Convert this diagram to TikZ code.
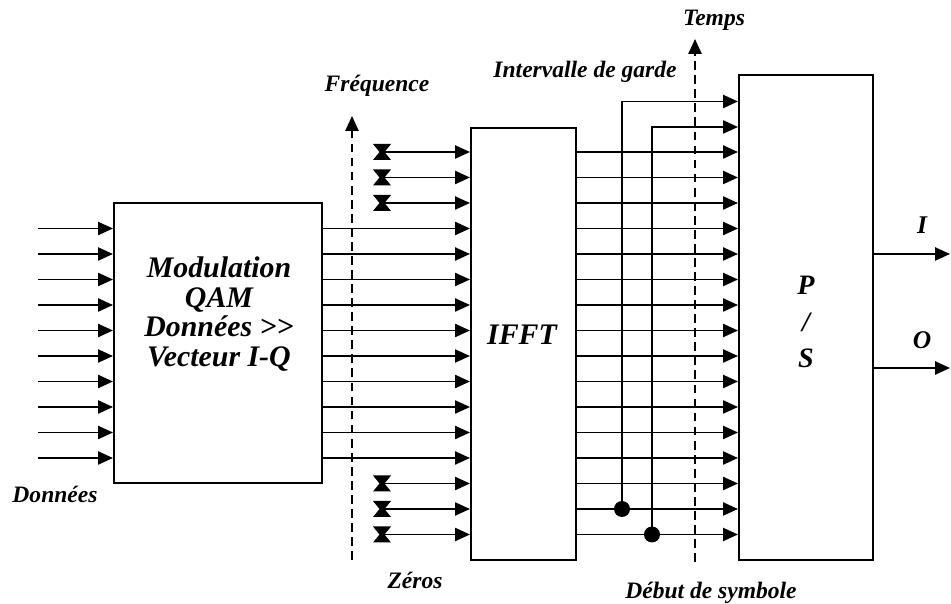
\documentclass[tikz,border=0pt]{standalone}
\usepackage{fontspec}
\setmainfont{Liberation Serif}
\usetikzlibrary{arrows.meta}
\begin{document}
\begin{tikzpicture}[x=0.02cm,y=-0.02cm,
  line width=1pt,
  box/.style={draw,line width=1.2pt,inner sep=0pt},
  arr/.style={-{Triangle[length=8.5pt,width=7.5pt]}},
  axis/.style={line width=1.1pt,dash pattern=on 5pt off 3pt,-{Triangle[length=8.5pt,width=7.5pt]}},
  lbl/.style={font=\fontsize{13.4}{15}\selectfont\bfseries\itshape,inner sep=0pt},
  big/.style={font=\fontsize{17}{17}\selectfont\bfseries\itshape,inner sep=0pt,align=center},
  dot/.style={circle,fill,inner sep=0pt,minimum size=0.32cm},
  hourglass/.pic={\fill (-9,-8)--(9,-8)--(2.5,0)--(9,8)--(-9,8)--(-2.5,0)--cycle;}]
\useasboundingbox (0,0) rectangle (951,604);

% blocks
\node[box,minimum width=4.16cm,minimum height=5.6cm] (mod) at (218,343) {};
\node[box,minimum width=2.1cm,minimum height=8.64cm] (ifft) at (523.5,344) {};
\node[box,minimum width=2.68cm,minimum height=9.7cm] (ps) at (806,317.5) {};

\node[big] (modtxt) at (219,314) {Modulation\\QAM\\Données >{}>\\Vecteur I-Q};
\node[big] (iffttxt) at (522,335) {IFFT};
\node[big,font=\fontsize{16}{21}\selectfont\bfseries\itshape] (pstxt) at (806,322) {P\\/\\S};

% rows
\foreach \k in {1,...,16}{
  \coordinate (r\k) at (0,{152+25.5*(\k-1)});
}
% data inputs and modulation outputs
\foreach \k in {4,...,13}{
  \coordinate (in\k) at (38,{152+25.5*(\k-1)});
  \draw[arr] (in\k) -- (in\k -| mod.west);
  \draw[arr] (in\k -| mod.east) -- (in\k -| ifft.west);
}
% zeros
\foreach \k in {1,2,3,14,15,16}{
  \coordinate (z\k) at (382,{152+25.5*(\k-1)});
  \pic at (z\k) {hourglass};
  \draw[arr] (z\k) -- (z\k -| ifft.west);
}
% IFFT outputs
\foreach \k in {1,...,16}{
  \draw[arr] (r\k -| ifft.east) -- (r\k -| ps.west);
}
% guard interval
\node[dot] (d1) at (622,509) {};
\node[dot] (d2) at (652,534.5) {};
\coordinate (g1) at (622,101.5);
\coordinate (g2) at (652,127);
\draw[arr] (d1.center) -- (g1) -- (g1 -| ps.west);
\draw[arr] (d2.center) -- (g2) -- (g2 -| ps.west);

% axes
\coordinate (fbot) at (352,560);
\coordinate (ftop) at (352,116);
\draw[axis] (fbot) -- (ftop);
\coordinate (tbot) at (695,562);
\coordinate (ttop) at (695,39);
\draw[axis] (tbot) -- (ttop);

% outputs
\coordinate (oi) at (950,254);
\coordinate (oo) at (950,368);
\draw[arr] (oi -| ps.east) -- (oi);
\draw[arr] (oo -| ps.east) -- (oo);

% labels
\node[lbl] (ldon) at (55,494) {Données};
\node[lbl] (lfreq) at (377,86) {Fréquence};
\node[lbl] (lint) at (585,72) {Intervalle de garde};
\node[lbl] (ltemps) at (714,20) {Temps};
\node[lbl] (lzeros) at (415,580) {Zéros};
\node[lbl] (ldebut) at (711,593) {Début de symbole};
\node[lbl,font=\fontsize{14.5}{15}\selectfont\bfseries\itshape] (li) at (922,225) {I};
\node[lbl,font=\fontsize{14.5}{15}\selectfont\bfseries\itshape] (lo) at (922,340) {O};
\end{tikzpicture}
\end{document}
